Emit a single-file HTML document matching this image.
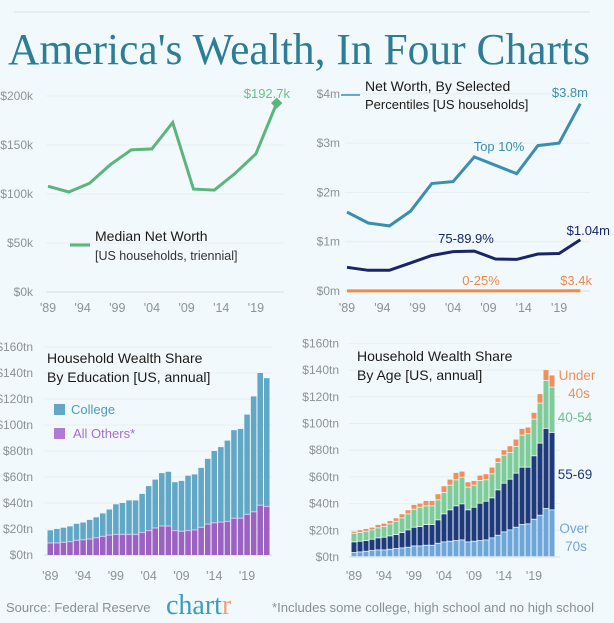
<!DOCTYPE html>
<html><head><meta charset="utf-8"><style>
body{margin:0;background:#f2f9fc;}
svg{display:block;font-family:"Liberation Sans",sans-serif;}
</style></head><body>
<svg id="s" width="614" height="623" viewBox="0 0 614 623">
<rect width="614" height="623" fill="#f2f9fc"/>
<line x1="14" y1="12" x2="590" y2="12" stroke="#e2e8ec" stroke-width="1.5"/>
<text x="8" y="64" font-family="Liberation Serif,serif" font-size="44" fill="#2e7d96" textLength="582" lengthAdjust="spacingAndGlyphs">America's Wealth, In Four Charts</text>
<g id="c1"></g>
<g id="c2"></g>
<g id="c3"></g>
<g id="c4"></g>
<text x="6" y="612" font-size="13" fill="#8a8f93">Source: Federal Reserve</text>
<text x="166" y="614" font-family="Liberation Serif,serif" font-size="28" fill="#3d9bbf">chart<tspan fill="#f0a07a">r</tspan></text>
<text x="272" y="612" font-size="13" fill="#8a8f93" textLength="322" lengthAdjust="spacingAndGlyphs">*Includes some college, high school and no high school</text>
</svg>
<script>
const NS='http://www.w3.org/2000/svg';
function mk(p,t,a,txt){const e=document.createElementNS(NS,t);for(const k in a)e.setAttribute(k,a[k]);if(txt!==undefined)e.textContent=txt;p.appendChild(e);return e;}
// data
const triYears=[1989,1992,1995,1998,2001,2004,2007,2010,2013,2016,2019,2022];
const medianNW=[108,102,111,130,145,146,173,105,104,121,141,192.7];
const top10=[1.6,1.38,1.32,1.62,2.18,2.22,2.72,2.55,2.38,2.95,3.0,3.8];
const p75=[0.48,0.42,0.42,0.57,0.72,0.8,0.81,0.65,0.64,0.75,0.76,1.04];
const p0_25=[0.003,0.003,0.003,0.003,0.003,0.003,0.003,0.003,0.003,0.003,0.003,0.0034];
const yearTicks=["'89","'94","'99","'04","'09","'14","'19"];
const tickYears=[1989,1994,1999,2004,2009,2014,2019];
const annualYears=[];for(let y=1989;y<=2022;y++)annualYears.push(y);
const totalWealth=[19,20,21,22,24,25,27,29,32,35,39,40,42,42,47,53,58,63,64,56,57,61,62,67,74,80,83,88,96,97,108,122,140,136];
const allOthers=[9,9,9.5,10,11,11.5,12,13,14,15,15.5,15.5,15.5,15.5,17,18.5,20.5,22,22,18.5,18,18.5,19,21,23.5,24.5,25,25.5,28,28,31,33,38,37];
const over70=[3,3.5,4,4.5,5,5,5.5,6,6.5,7,8,8,8.5,8.5,10,11,11.5,12,12.5,11,11.5,12,12.5,14,16,18.5,20,22,24,24.5,28,31,36,35];
const age55_69=[8,8,8,8.5,9,9.5,10,10.5,11.5,13,14,14.5,15.5,15.5,17.5,21,23.5,26,27,24,25.5,28,29,30,34,36.5,38,40.5,43,42.5,47.5,54,60,58];
const age40_54=[6.5,6.5,7,7,7.5,8,9,10,11,12,13.5,14.5,14,14,15,16,18.5,19.5,20,17,16.5,17,16,18,20.5,21,20,20,24,25,27.5,30,36,34];
const under40=[1.5,2,2,2,2.5,2.5,2.5,2.5,3,3,3.5,3,4,4,4.5,5,4.5,5.5,4.5,4,3.5,4,4.5,5,3.5,4,5,5.5,5,5,5,7,8,9];
const kTicks=[0,50,100,150,200], kLabels=["$0k","$50k","$100k","$150k","$200k"];
const mTicks=[0,1,2,3,4], mLabels=["$0m","$1m","$2m","$3m","$4m"];
const tnTicks=[0,20,40,60,80,100,120,140,160], tnLabels=["$0tn","$20tn","$40tn","$60tn","$80tn","$100tn","$120tn","$140tn","$160tn"];

function axes(g,sx,sy,ticks,labels,labelX,anchor,x0,x1,yr){
  ticks.forEach((t,i)=>{
    const y=sy(t);
    const l=mk(g,'line',{x1:x0,x2:x1,y1:y,y2:y,stroke:i==0?'#d5dde2':'#e6eef2','stroke-width':1});
    
    const tx=mk(g,'text',{x:labelX,y:y+4,'font-size':12,fill:'#8c9296','text-anchor':anchor},labels[i]);
    
  });
  tickYears.forEach((yv,i)=>{
    const tx=mk(g,'text',{x:sx(yv),y:yr,'font-size':12.5,fill:'#8c9296','text-anchor':'middle'},yearTicks[i]);
    
  });
}
function line(g,sx,sy,xs,ys,col,w,name){
  const d=xs.map((x,i)=>(i?'L':'M')+sx(x).toFixed(1)+','+sy(ys[i]).toFixed(1)).join('');
  const p=mk(g,'path',{d:d,fill:'none',stroke:col,'stroke-width':w,'stroke-linejoin':'miter'});
  
}
// chart 1
{const g=document.getElementById('c1');
 const sx=y=>48+(y-1989)*6.93, sy=v=>292-v*0.98;
 axes(g,sx,sy,kTicks,kLabels,33,'end',46,284,312);
 line(g,sx,sy,triYears,medianNW,'#5cb57e',3,'median-line');
 const lx=sx(2022),ly=sy(medianNW[11]);
 const m=mk(g,'rect',{x:lx-4,y:ly-4,width:8,height:8,fill:'#5cb57e',transform:`rotate(45 ${lx} ${ly})`});
 
 const t=mk(g,'text',{x:290,y:98,'font-size':13,fill:'#6cc08a','text-anchor':'end'},'$'+medianNW[11]+'k');
 
 const ll=mk(g,'line',{x1:70,x2:90,y1:245,y2:245,stroke:'#5cb57e','stroke-width':3});
 
 const a=mk(g,'text',{x:95,y:241,'font-size':14,fill:'#1a1a1a'},'Median Net Worth');
 const b=mk(g,'text',{x:95,y:260,'font-size':12.5,fill:'#333'},'[US households, triennial]');
}
// chart 2
{const g=document.getElementById('c2');
 const sx=y=>347+(y-1989)*7.07, sy=v=>291-v*49.3;
 axes(g,sx,sy,mTicks,mLabels,340,'end',345,590,312);
 line(g,sx,sy,triYears,p0_25,'#ef8a4c',3,'bottom-25-line');
 line(g,sx,sy,triYears,p75,'#18256a',3,'p75-90-line');
 line(g,sx,sy,triYears,top10,'#3a8fb0',3,'top-10-line');
 const L=[[ 'Top 10%',499,151,'#3a8fb0','middle'],['$3.8m',588,97,'#3a8fb0','end'],['75-89.9%',466,243,'#18256a','middle'],['$1.04m',610,235,'#18256a','end'],['0-25%',481,285,'#ef8a4c','middle'],['$3.4k',592,285,'#ef8a4c','end']];
 L.forEach(l=>{const t=mk(g,'text',{x:l[1],y:l[2],'font-size':13,fill:l[3],'text-anchor':l[4]},l[0]);});
 const ll=mk(g,'line',{x1:341,x2:360,y1:95,y2:95,stroke:'#3a8fb0','stroke-width':1.5});
 const a=mk(g,'text',{x:365,y:91,'font-size':14,fill:'#1a1a1a'},'Net Worth, By Selected');
 const b=mk(g,'text',{x:365,y:109,'font-size':13,fill:'#1a1a1a'},'Percentiles [US households]');
}
// chart 3
{const g=document.getElementById('c3');
 const bw=6.56,x0=47;
 const sx=y=>x0+(y-1989+0.5)*bw, sy=v=>555-v*1.3;
 axes(g,sx,sy,tnTicks,tnLabels,33,'end',44,272,580);
 annualYears.forEach((yr,i)=>{
  const x=x0+i*bw+0.5;
  const c=mk(g,'rect',{x:x,y:sy(totalWealth[i]),width:bw-1,height:sy(allOthers[i])-sy(totalWealth[i]),fill:'#62a8c6'});
  
  const o=mk(g,'rect',{x:x,y:sy(allOthers[i]),width:bw-1,height:555-sy(allOthers[i]),fill:'#9c62c2'});
  
  const s=mk(g,'rect',{x:x,y:sy(allOthers[i])-1,width:bw-1,height:1.2,fill:'#d2b8ea'});
  
 });
 const a=mk(g,'text',{x:47,y:363,'font-size':14,fill:'#1a1a1a'},'Household Wealth Share');
 const b=mk(g,'text',{x:47,y:382,'font-size':14,fill:'#1a1a1a'},'By Education [US, annual]');
 const r1=mk(g,'rect',{x:54,y:404,width:11,height:11,fill:'#62a8c6'});
 const t1=mk(g,'text',{x:71,y:414,'font-size':13,fill:'#4a9bbd'},'College');
 const r2=mk(g,'rect',{x:54,y:428,width:11,height:11,fill:'#b07ad6'});
 const t2=mk(g,'text',{x:73,y:438,'font-size':13,fill:'#a66ed0'},'All Others*');
}
// chart 4
{const g=document.getElementById('c4');
 const bw=6.0,x0=351;
 const sx=y=>x0+(y-1989+0.5)*bw, sy=v=>557-v*1.335;
 axes(g,sx,sy,tnTicks,tnLabels,339,'end',349,560,580);
 const series=[[over70,'#6fa6da','over-70s-bar'],[age55_69,'#1f3a7a','age-55-69-bar'],[age40_54,'#7dcc9a','age-40-54-bar'],[under40,'#ef905a','under-40s-bar']];
 annualYears.forEach((yr,i)=>{
  let cum=0;const x=x0+i*bw+0.5;
  series.forEach(s=>{
   const v=s[0][i];const y1=sy(cum+v),y0=sy(cum);
   const r=mk(g,'rect',{x:x,y:y1,width:bw-1,height:Math.max(0,y0-y1-0.8),fill:s[1]});
   
   cum+=v;
  });
 });
 const a=mk(g,'text',{x:357,y:361,'font-size':14,fill:'#1a1a1a'},'Household Wealth Share');
 const b=mk(g,'text',{x:357,y:380,'font-size':14,fill:'#1a1a1a'},'By Age [US, annual]');
 const L=[['Under',577,380,'#ef905a'],['40s',579,398,'#ef905a'],['40-54',575,422,'#6cc08a'],['55-69',575,479,'#1f3a7a'],['Over',574,533,'#6fa6da'],['70s',576,551,'#6fa6da']];
 L.forEach(l=>{const t=mk(g,'text',{x:l[1],y:l[2],'font-size':13.5,fill:l[3],'text-anchor':'middle'},l[0]);});
}
</script>
</body></html>
